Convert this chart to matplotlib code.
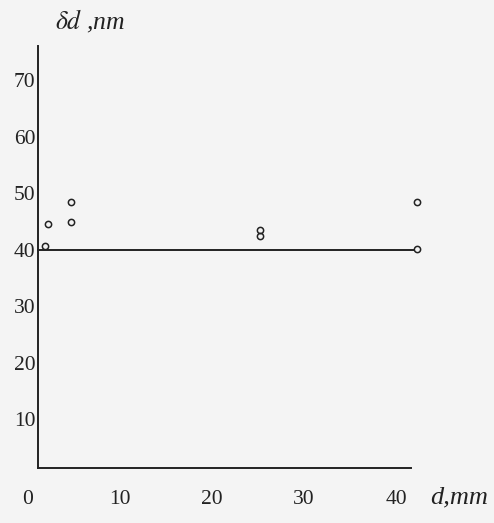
import matplotlib
matplotlib.use("Agg")
import matplotlib.pyplot as plt

# data
d_mm = [1.8, 2.2, 4.7, 4.7, 25.2, 25.2, 42.3, 42.3]
dd_nm = [40.7, 44.6, 44.8, 48.5, 42.4, 43.5, 40.2, 48.5]
ref_level = 40
ref_x = [1.1, 42.0]
x_ticks = [0, 10, 20, 30, 40]
y_ticks = [10, 20, 30, 40, 50, 60, 70]

W, H = 494, 523
fig = plt.figure(figsize=(W / 100, H / 100), dpi=100)
fig.patch.set_facecolor("#f4f4f4")

left_px, right_px, bottom_px, top_px = 28, 440, 468, 46
ax = fig.add_axes([left_px / W, 1 - bottom_px / H, (right_px - left_px) / W, (bottom_px - top_px) / H])
ax.set_facecolor("none")

xmin = 0.0
xmax = (right_px - left_px) / 9.2
ax.set_xlim(xmin, xmax)
ax.set_ylim(1.4, 76)

serif = "Liberation Serif"
ax.spines["top"].set_visible(False)
ax.spines["right"].set_visible(False)
ax.spines["left"].set_position(("data", 1.1))
ax.spines["bottom"].set_bounds(1.1, 41.6)
for s in ("left", "bottom"):
    ax.spines[s].set_linewidth(1.4)
    ax.spines[s].set_color("#222222")

ax.set_xticks(x_ticks)
ax.set_yticks(y_ticks)
ax.set_xticklabels([str(v) for v in x_ticks], fontfamily=serif, fontsize=15.5, color="#222222")
ax.set_yticklabels([str(v) for v in y_ticks], fontfamily=serif, fontsize=15.5, color="#222222")
ax.tick_params(axis="both", length=0)
ax.tick_params(axis="x", pad=16)
ax.tick_params(axis="y", pad=2)

ax.plot(ref_x, [ref_level, ref_level], color="#222222", lw=1.4, clip_on=False)
ax.plot(d_mm, dd_nm, linestyle="none", marker="o", markersize=4.5,
        markerfacecolor="none", markeredgecolor="#222222", markeredgewidth=1.1, clip_on=False)

fig.text(55 / W, 1 - 29 / H, r"$\delta d$ ,nm", fontfamily=serif, fontstyle="italic",
         fontsize=18.5, color="#222222", ha="left", va="baseline",
         math_fontfamily="stix")
fig.text(430 / W, 1 - 503 / H, "d,mm", fontfamily=serif, fontstyle="italic",
         fontsize=19, color="#222222", ha="left", va="baseline")

fig.savefig("out.png", dpi=100, facecolor=fig.get_facecolor())
